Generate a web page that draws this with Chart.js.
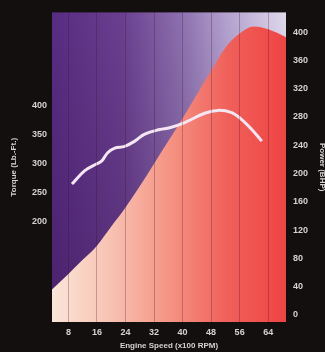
<!DOCTYPE html>
<html>
<head>
<meta charset="utf-8">
<script src="https://cdn.jsdelivr.net/npm/chart.js@4/dist/chart.umd.min.js"></script>
<style>
  html, body { margin: 0; padding: 0; background: #130f0f; }
  #wrap { width: 325px; height: 352px; }
</style>
</head>
<body>
<div id="wrap"><canvas id="chart"></canvas></div>
<script>
// engine speed in x100 rpm
const rpmTorque = [9.0, 12.6, 16.0, 17.4, 19.0, 21.0, 23.8, 26.6, 29.4, 33.6, 36.4, 40.6, 46.2, 49.9, 53.8, 56.6, 59.4, 62.2];
const torque = [265, 288, 300, 305, 319, 327, 330, 339, 351, 359, 362, 371, 387, 392, 388, 376, 359, 339];

const rpmPower = [3.4, 8, 12, 16, 20, 24, 28, 32, 36, 40, 44, 48, 52, 56, 60, 64, 69];
const power = [36, 58, 78, 98, 125, 152, 182, 214, 246, 278, 312, 345, 378, 398, 408, 404, 393];

const rpmTicks = [8, 16, 24, 32, 40, 48, 56, 64];
const torqueTicks = [200, 250, 300, 350, 400];
const powerTicks = [0, 40, 80, 120, 160, 200, 240, 280, 320, 360, 400];

const tickFont = { family: 'Liberation Sans', size: 9, weight: 'bold' };
const tickColor = '#d6d2d2';

function setTicks(list) {
  return scale => { scale.ticks = list.map(v => ({ value: v })); };
}

// purple backdrop behind the plot
const backdrop = {
  id: 'backdrop',
  beforeDraw(chart) {
    const { ctx, chartArea: a } = chart;
    const w = a.right - a.left, h = a.bottom - a.top;
    const g = ctx.createLinearGradient(a.left, 0, a.right, 0);
    g.addColorStop(0, '#582c82');
    g.addColorStop(0.3, '#6a3f8f');
    g.addColorStop(0.55, '#8c70ae');
    g.addColorStop(0.75, '#b4a2cf');
    g.addColorStop(1, '#dfd9ec');
    ctx.save();
    ctx.fillStyle = g;
    ctx.fillRect(a.left, a.top, w, h);
    const v = ctx.createLinearGradient(0, a.top, 0, a.bottom);
    v.addColorStop(0, 'rgba(40,10,60,0)');
    v.addColorStop(1, 'rgba(40,10,60,0.3)');
    ctx.fillStyle = v;
    ctx.fillRect(a.left, a.top, w, h);
    ctx.restore();
  }
};

function redFill(context) {
  const a = context.chart.chartArea;
  if (!a) return '#f05050';
  const g = context.chart.ctx.createLinearGradient(a.left, 0, a.right, 0);
  g.addColorStop(0, '#fae6d8');
  g.addColorStop(0.25, '#f8c2b2');
  g.addColorStop(0.5, '#f59484');
  g.addColorStop(0.75, '#f0605a');
  g.addColorStop(1, '#ee4444');
  return g;
}

new Chart(document.getElementById('chart'), {
  type: 'line',
  data: {
    datasets: [
      {
        label: 'Torque',
        data: rpmTorque.map((x, i) => ({ x: x, y: torque[i] })),
        yAxisID: 'yT',
        borderColor: '#f4e6f2',
        borderWidth: 3,
        pointRadius: 0,
        tension: 0.4,
        fill: false,
        order: 0
      },
      {
        label: 'Power',
        data: rpmPower.map((x, i) => ({ x: x, y: power[i] })),
        yAxisID: 'yP',
        borderColor: 'rgba(0,0,0,0)',
        borderWidth: 0,
        backgroundColor: redFill,
        pointRadius: 0,
        cubicInterpolationMode: 'monotone',
        fill: 'start',
        order: 1
      }
    ]
  },
  options: {
    responsive: true,
    maintainAspectRatio: false,
    animation: false,
    layout: { padding: { top: 10, left: 0, right: 0, bottom: 0 } },
    plugins: { legend: { display: false }, tooltip: { enabled: false } },
    scales: {
      x: {
        type: 'linear',
        min: 3.4,
        max: 69,
        afterBuildTicks: setTicks(rpmTicks),
        afterFit: s => { s.height = 30; },
        grid: { color: 'rgba(70,10,40,0.28)', drawTicks: false, z: 1 },
        border: { display: false },
        ticks: { color: tickColor, font: tickFont, padding: 5 },
        title: {
          display: true, text: 'Engine Speed (x100 RPM)', color: tickColor,
          font: { family: 'Liberation Sans', size: 8, weight: 'bold' },
          padding: { top: 0, bottom: 1 }
        }
      },
      yT: {
        type: 'linear',
        position: 'left',
        min: 27,
        max: 561,
        afterBuildTicks: setTicks(torqueTicks),
        afterFit: s => { s.width = 52; },
        grid: { display: false, drawTicks: false },
        border: { display: false },
        ticks: { color: tickColor, font: tickFont, padding: 5 },
        title: {
          display: true, text: 'Torque (Lb.-Ft.)', color: tickColor,
          font: { family: 'Liberation Sans', size: 8, weight: 'bold' },
          padding: { top: 9, bottom: 0 }
        }
      },
      yP: {
        type: 'linear',
        position: 'right',
        min: -10,
        max: 428,
        afterBuildTicks: setTicks(powerTicks),
        afterFit: s => { s.width = 39; },
        grid: { display: false, drawTicks: false },
        border: { display: false },
        ticks: { color: tickColor, font: tickFont, padding: 7 },
        title: {
          display: true, text: 'Power (BHP)', color: tickColor,
          font: { family: 'Liberation Sans', size: 8, weight: 'bold' },
          padding: { top: -2, bottom: 0 }
        }
      }
    }
  },
  plugins: [backdrop]
});
</script>
</body>
</html>
